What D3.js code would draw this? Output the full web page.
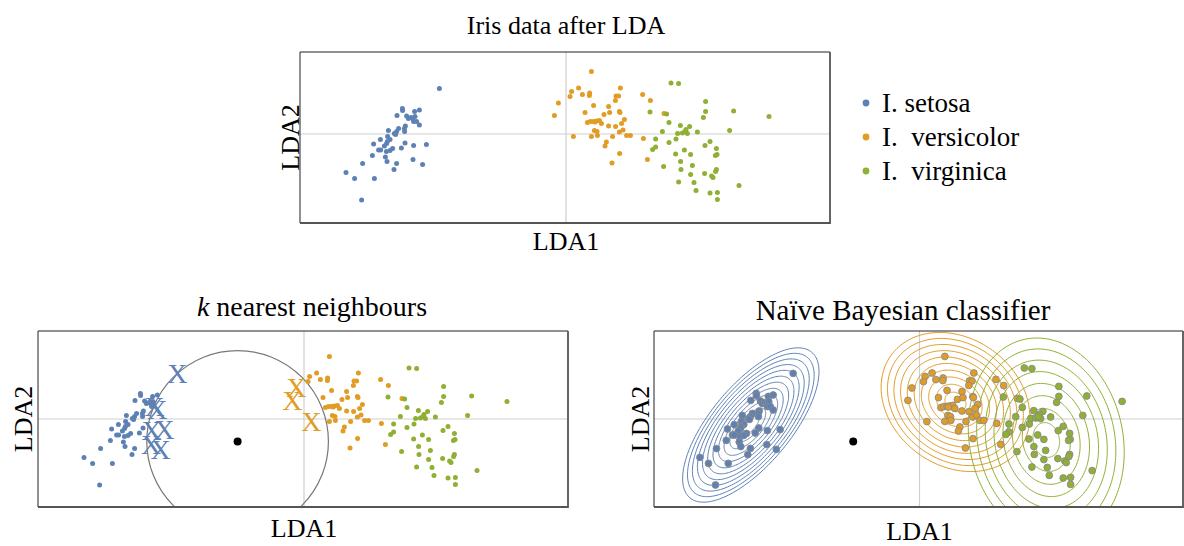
<!DOCTYPE html>
<html><head><meta charset="utf-8">
<script src="https://cdn.jsdelivr.net/npm/d3@7"></script>
<style>
body{margin:0;background:#fff}
text{font-family:"Liberation Serif","Times New Roman",serif;fill:#000;white-space:pre}
</style>
</head><body><svg id="c" width="1184" height="546"></svg>
<script>
// ---------------- data ----------------
const speciesNames = ["I. setosa", "I.  versicolor", "I.  virginica"];
const speciesColors = ["#5E81B5", "#E19C24", "#8FB032"];

const setosaLDA1 = [-6.33,-8.18,-8.17,-7.57,-7.33,-8.45,-7.97,-7.88,-7.75,-7.65,-7.55,-7.62,-7.47,-7.33,-8.03,-8.08,-8.88,-8.37,-8.47,-8.58,-8.52,-8.07,-8.92,-9.28,-8.80,-8.93,-8.97,-9.62,-9.08,-8.67,-9.37,-9.27,-8.98,-8.80,-8.05,-7.62,-6.98,-8.23,-9.68,-9.03,-8.95,-10.17,-8.47,-7.65,-7.17,-11.00,-8.60,-10.57,-9.58,-10.22];
const setosaLDA2 = [2.28,1.28,1.17,1.13,1.20,0.93,0.90,0.78,0.82,0.75,0.87,0.62,0.62,0.45,0.40,0.28,0.18,0.28,0.12,0.02,-0.02,0.12,-0.12,-0.28,-0.27,-0.38,-0.47,-0.50,-0.60,-0.72,-0.80,-0.80,-0.88,-0.82,-0.45,-0.58,-0.53,-0.70,-1.07,-1.15,-1.38,-1.48,-1.47,-1.28,-1.52,-1.92,-1.78,-2.22,-2.22,-3.30];

const versicolorLDA1 = [1.27,0.63,0.28,0.20,0.82,1.18,1.17,2.72,2.50,2.63,2.47,3.83,4.22,-0.38,1.38,2.13,-0.58,0.95,1.90,2.18,2.67,2.70,2.92,2.78,1.07,1.22,1.38,1.53,1.67,1.77,2.13,2.48,2.67,2.85,3.03,3.22,1.42,1.55,1.57,1.27,0.37,2.33,3.87,2.02,1.95,2.68,4.07,2.30,4.90,1.45];
const versicolorLDA2 = [3.13,2.30,2.13,1.87,1.97,2.05,1.92,2.30,1.90,1.90,1.68,1.98,1.67,1.55,1.43,1.37,0.93,1.07,0.98,1.07,1.12,1.07,0.73,0.53,0.57,0.62,0.63,0.65,0.68,0.53,0.40,0.37,0.10,0.20,-0.07,-0.07,0.18,0.12,-0.07,-0.12,-0.13,-0.13,-0.22,-0.40,-0.60,-0.98,-1.27,-1.45,1.03,0.60];

const virginicaLDA1 = [5.25,5.63,6.98,6.98,8.38,4.20,5.03,6.87,10.15,5.15,5.72,6.18,6.00,5.58,5.82,6.07,4.82,6.57,8.18,5.50,4.48,5.15,7.20,6.95,4.48,4.33,5.92,7.52,5.48,6.23,7.55,7.47,5.73,4.88,6.32,5.75,7.52,7.48,6.93,6.23,7.28,7.35,5.63,6.40,8.65,6.50,7.20,7.57,7.57,5.95];
const virginicaLDA2 = [2.55,2.52,1.63,1.13,1.15,1.10,1.00,0.83,0.88,0.58,0.42,0.38,0.23,0.03,0.05,0.02,0.12,0.10,0.18,-0.25,-0.25,-0.42,-0.37,-0.58,-0.65,-0.77,-0.80,-0.72,-1.00,-1.02,-1.02,-1.07,-1.38,-1.63,-1.57,-1.77,-1.77,-1.88,-1.98,-2.03,-2.10,-2.18,-2.40,-2.42,-2.58,-2.82,-2.95,-2.92,-3.27,0.12];

// query point and neighbour count for the kNN panel
const testPoint = [-3.32, -1.12];
const kNeighbours = 10;

// per-class Gaussian models for the Naive Bayes panel (outermost contour)
const nbMeanLDA1 = [-8.45, 1.80, 6.35];
const nbMeanLDA2 = [-0.30, 0.85, -1.05];
const nbSemiMajor = [4.75, 3.98, 5.15];
const nbSemiMinor = [2.0, 3.18, 3.84];
const nbAngleDeg = [50, -36, -78];
const nbRingCount = [12, 10, 8];

// ---------------- build ----------------
const points = [];
[[setosaLDA1, setosaLDA2], [versicolorLDA1, versicolorLDA2], [virginicaLDA1, virginicaLDA2]]
  .forEach(([a, b], s) => a.forEach((v, i) => points.push({x: v, y: b[i], s})));

const svg = d3.select("#c");
const X_DOMAIN = [-13.3, 13.2];
function makePanel(id, x0, x1, y0, y1, yDom) {
  const x = d3.scaleLinear().domain(X_DOMAIN).range([x0, x1]);
  const y = d3.scaleLinear().domain(yDom).range([y1, y0]);
  svg.append("clipPath").attr("id", id).append("rect")
    .attr("x", x0).attr("y", y0).attr("width", x1 - x0).attr("height", y1 - y0);
  const g = svg.append("g");
  const inner = g.append("g").attr("clip-path", `url(#${id})`);
  inner.append("line").attr("x1", x(0)).attr("x2", x(0)).attr("y1", y0).attr("y2", y1)
    .attr("stroke", "#cfcfcf").attr("stroke-width", 1.2);
  inner.append("line").attr("x1", x0).attr("x2", x1).attr("y1", y(0)).attr("y2", y(0))
    .attr("stroke", "#cfcfcf").attr("stroke-width", 1.2);
  return {x, y, x0, x1, y0, y1, g, inner};
}
function drawFrame(p) {
  p.g.append("path").attr("d", `M${p.x0},${p.y1}V${p.y0}H${p.x1}`)
    .attr("fill", "none").attr("stroke", "#222").attr("stroke-width", 1);
  p.g.append("path").attr("d", `M${p.x0},${p.y1}H${p.x1}V${p.y0}`)
    .attr("fill", "none").attr("stroke", "#555").attr("stroke-width", 1.8);
}
function labels(p, o) {
  const t = svg.append("text").attr("x", o.titleX).attr("y", o.titleY)
    .attr("text-anchor", "middle").attr("font-size", o.titleSize);
  if (o.isK) {
    t.append("tspan").attr("font-style", "italic").text("k");
    t.append("tspan").text(" nearest neighbours");
  } else t.text(o.title);
  svg.append("text").attr("x", p.x(0)).attr("y", o.ly).attr("text-anchor", "middle")
    .attr("font-size", o.labelSize).text("LDA1");
  svg.append("text").attr("transform", `translate(${o.yLabelX},${(p.y0 + p.y1) / 2}) rotate(-90)`)
    .attr("text-anchor", "middle").attr("font-size", o.labelSize).text("LDA2");
}

// ---- top panel ----
const pTop = makePanel("clipTop", 300, 830, 52, 223, [-4.45, 4.1]);
pTop.inner.selectAll("circle.pt").data(points).join("circle").attr("class", "pt")
  .attr("cx", d => pTop.x(d.x)).attr("cy", d => pTop.y(d.y)).attr("r", 2.5)
  .attr("fill", d => speciesColors[d.s]);
drawFrame(pTop);
labels(pTop, {title: "Iris data after LDA", titleX: 566, titleY: 34, titleSize: 26, ly: 250, yLabelX: 299, labelSize: 26});

// legend
const leg = svg.append("g");
speciesNames.forEach((n, i) => {
  leg.append("circle").attr("cx", 866).attr("cy", 103 + i * 34).attr("r", 3.4).attr("fill", speciesColors[i]);
  leg.append("text").attr("x", 882).attr("y", 112 + i * 34).attr("font-size", 27).text(n);
});

// ---- kNN panel ----
const pK = makePanel("clipK", 38, 568, 331, 507, [-4.4, 4.4]);
const withDist = points.map(d => ({...d, dist: Math.hypot(d.x - testPoint[0], d.y - testPoint[1])}));
const sorted = withDist.slice().sort((a, b) => a.dist - b.dist);
const nn = new Set(sorted.slice(0, kNeighbours));
const radius = sorted[kNeighbours - 1].dist;
pK.inner.append("circle").attr("cx", pK.x(testPoint[0])).attr("cy", pK.y(testPoint[1]))
  .attr("r", pK.x(radius) - pK.x(0)).attr("fill", "none").attr("stroke", "#777").attr("stroke-width", 1.2);
pK.inner.selectAll("circle.pt").data(withDist.filter(d => !nn.has(d))).join("circle").attr("class", "pt")
  .attr("cx", d => pK.x(d.x)).attr("cy", d => pK.y(d.y)).attr("r", 2.5)
  .attr("fill", d => speciesColors[d.s]);
pK.inner.selectAll("text.nn").data([...nn]).join("text").attr("class", "nn")
  .attr("x", d => pK.x(d.x)).attr("y", d => pK.y(d.y)).attr("text-anchor", "middle")
  .attr("dy", "0.33em").attr("font-size", 28).style("fill", d => speciesColors[d.s]).text("X");
pK.inner.append("circle").attr("cx", pK.x(testPoint[0])).attr("cy", pK.y(testPoint[1])).attr("r", 4).attr("fill", "#000");
drawFrame(pK);
labels(pK, {isK: true, titleX: 312, titleY: 316, titleSize: 28, ly: 537, yLabelX: 32, labelSize: 26});

// ---- Naive Bayes panel ----
const pN = makePanel("clipN", 654, 1183, 331, 507, [-4.4, 4.4]);
const ringLine = d3.line().x(d => pN.x(d[0])).y(d => pN.y(d[1])).curve(d3.curveLinearClosed);
speciesNames.forEach((_, c) => {
  const n = nbRingCount[c], th = nbAngleDeg[c] * Math.PI / 180;
  for (let k = 1; k <= n; k++) {
    const s = Math.pow((n + 1 - k) / n, 0.85);
    const pts = d3.range(0, 2 * Math.PI, Math.PI / 90).map(t => {
      const u = nbSemiMajor[c] * s * Math.cos(t), v = nbSemiMinor[c] * s * Math.sin(t);
      return [nbMeanLDA1[c] + u * Math.cos(th) - v * Math.sin(th), nbMeanLDA2[c] + u * Math.sin(th) + v * Math.cos(th)];
    });
    pN.inner.append("path").attr("d", ringLine(pts)).attr("fill", "none")
      .attr("stroke", speciesColors[c]).attr("stroke-width", 1);
  }
});
pN.inner.selectAll("circle.pt").data(points).join("circle").attr("class", "pt")
  .attr("cx", d => pN.x(d.x)).attr("cy", d => pN.y(d.y)).attr("r", 3.4)
  .attr("fill", d => speciesColors[d.s]).attr("stroke", "#8a8a8a").attr("stroke-width", 0.9);
pN.inner.append("circle").attr("cx", pN.x(testPoint[0])).attr("cy", pN.y(testPoint[1])).attr("r", 4).attr("fill", "#000");
drawFrame(pN);
labels(pN, {title: "Naïve Bayesian classifier", titleX: 903, titleY: 320, titleSize: 29, ly: 540, yLabelX: 649, labelSize: 26});
</script></body></html>
